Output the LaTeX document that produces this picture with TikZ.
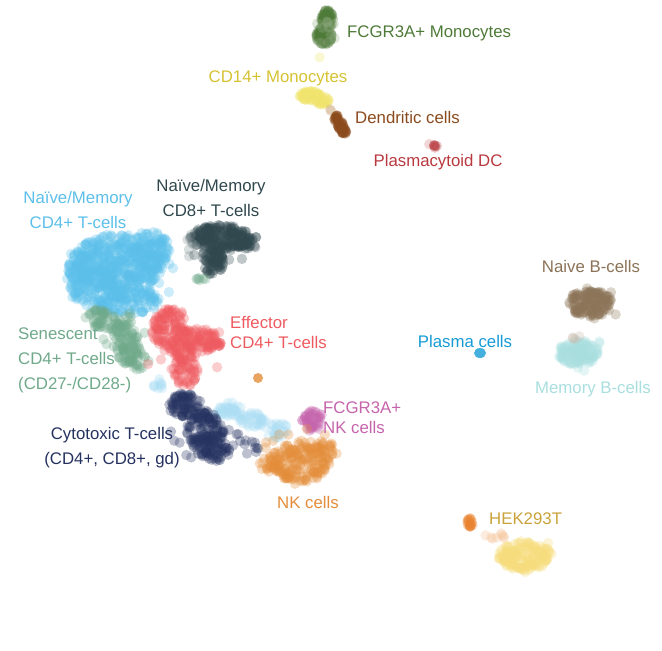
\documentclass[tikz,border=0pt]{standalone}
\usepackage{fontspec}
\setmainfont{Liberation Sans}
\usepackage{tikz}

\definecolor{fmono}{HTML}{4E7A38}
\definecolor{cmono}{HTML}{F0E46E}
\definecolor{cmonotxt}{HTML}{D6C232}
\definecolor{dend}{HTML}{8B4A1C}
\definecolor{dendtan}{HTML}{C49A6C}
\definecolor{pdc}{HTML}{B8393E}
\definecolor{cdfn}{HTML}{5BBFEA}
\definecolor{cdeight}{HTML}{2F474D}
\definecolor{sen}{HTML}{6FA98A}
\definecolor{eff}{HTML}{EE5A5F}
\definecolor{lblue}{HTML}{A9DCF3}
\definecolor{cyt}{HTML}{253260}
\definecolor{fnk}{HTML}{C564AC}
\definecolor{nk}{HTML}{E38D3A}
\definecolor{plasma}{HTML}{169BD5}
\definecolor{nb}{HTML}{8B7357}
\definecolor{mb}{HTML}{A9DEDF}
\definecolor{hek}{HTML}{E8822E}
\definecolor{heky}{HTML}{F6DC7C}
\definecolor{hektxt}{HTML}{C9A23A}

% cx, cy, sx, sy, n, colour
\newcommand\blob[6]{%
  \foreach \i in {1,...,#5}{
    \pgfmathsetmacro\rr{sqrt(rnd)}
    \pgfmathsetmacro\aa{360*rnd}
    \fill[dot,#6] ({#1+#3*\rr*cos(\aa)},{#2+#4*\rr*sin(\aa)}) circle[radius=5.2pt];
  }}

\begin{document}
\begin{tikzpicture}[x=1pt,y=-1pt,
  dot/.style={fill opacity=0.3},
  lbl/.style={font=\fontsize{16.8}{25}\selectfont,inner sep=0pt},
  lbltight/.style={font=\fontsize{16.8}{20}\selectfont,inner sep=0pt}]
\useasboundingbox (0,0) rectangle (662,651);
\pgfmathsetseed{1234}

% monocytes and dendritic cells
\blob{327}{20}{6}{10}{80}{fmono}
\blob{324}{36}{8}{9}{80}{fmono}
\blob{324}{32}{13}{14}{10}{fmono!60}
\blob{319}{57}{1}{1}{1}{cmono}
\blob{310}{96}{11}{5}{80}{cmono}
\blob{322}{100}{7}{5}{40}{cmono}
\blob{331}{110}{1}{1}{2}{dendtan}
\blob{337}{119}{3}{4}{20}{dend}
\blob{341}{126}{3}{4}{25}{dend}
\blob{344}{131}{3}{3}{20}{dend}
\blob{430}{144}{1}{1}{2}{pdc!40}
\blob{435}{147}{2}{2}{6}{pdc}

% T-cells
\blob{118}{262}{46}{28}{420}{cdfn}
\blob{95}{290}{26}{20}{120}{cdfn}
\blob{128}{300}{32}{14}{130}{cdfn}
\blob{150}{250}{20}{20}{90}{cdfn}
\blob{80}{268}{12}{15}{50}{cdfn}
\blob{120}{272}{58}{42}{30}{cdfn}
\blob{220}{238}{30}{13}{200}{cdeight}
\blob{212}{262}{12}{14}{70}{cdeight}
\blob{246}{243}{9}{6}{30}{cdeight}
\blob{190}{245}{6}{12}{6}{cdeight!60}
\blob{222}{248}{40}{24}{15}{cdeight}
\blob{201}{279}{5}{2}{6}{sen}
\blob{112}{322}{20}{10}{60}{sen}
\blob{127}{346}{14}{18}{80}{sen}
\blob{140}{360}{9}{10}{20}{sen}
\blob{98}{313}{10}{5}{15}{sen}
\blob{85}{318}{1}{1}{1}{sen}
\blob{120}{340}{30}{30}{12}{sen}
\blob{170}{330}{18}{22}{130}{eff}
\blob{198}{340}{20}{12}{80}{eff}
\blob{185}{365}{14}{22}{80}{eff}
\blob{214}{345}{8}{5}{20}{eff}
\blob{185}{350}{40}{45}{15}{eff}
\blob{228}{410}{14}{8}{35}{lblue}
\blob{252}{420}{14}{8}{35}{lblue}
\blob{276}{430}{12}{8}{25}{lblue}
\blob{160}{385}{8}{6}{10}{lblue}
\blob{185}{405}{17}{12}{80}{cyt}
\blob{205}{430}{19}{18}{120}{cyt}
\blob{214}{451}{17}{10}{60}{cyt}
\blob{250}{445}{12}{12}{10}{cyt}
\blob{205}{430}{35}{35}{15}{cyt}

% NK cells
\blob{312}{420}{10}{10}{45}{fnk}
\blob{312}{418}{16}{14}{6}{fnk}
\blob{300}{462}{30}{20}{170}{nk}
\blob{270}{464}{12}{8}{25}{nk}
\blob{325}{450}{10}{10}{30}{nk}
\blob{300}{458}{42}{30}{15}{nk}
\fill[nk,fill opacity=0.8] (258,378) circle[radius=5pt];

% B-cells
\fill[plasma,fill opacity=0.8] (480,353) ellipse[x radius=6pt,y radius=5pt];
\blob{590}{303}{22}{14}{150}{nb}
\blob{590}{305}{30}{20}{12}{nb}
\blob{578}{353}{20}{12}{140}{mb}
\blob{578}{352}{28}{20}{12}{mb}
\blob{574}{337}{6}{3}{4}{nb!50}

% HEK293T
\blob{470}{523}{3}{6}{20}{hek}
\blob{495}{536}{10}{4}{8}{hek!50}
\blob{525}{556}{27}{14}{170}{heky}
\blob{525}{556}{33}{19}{10}{heky}

% labels
\node[lbl,text=fmono,anchor=west] (fmonolbl) at (347,33) {FCGR3A+ Monocytes};
\node[lbl,text=cmonotxt] (cmonolbl) at (278,78) {CD14+ Monocytes};
\node[lbl,text=dend,anchor=west] (dendlbl) at (355,117) {Dendritic cells};
\node[lbl,text=pdc] (pdclbl) at (438,162) {Plasmacytoid DC};
\node[lbl,text=cdfn,align=center] (cdfnlbl) at (78,210) {Naïve/Memory\\CD4+ T-cells};
\node[lbl,text=cdeight,align=center] (cdeightlbl) at (211,198) {Naïve/Memory\\CD8+ T-cells};
\node[lbltight,text=eff,align=left,anchor=west] (efflbl) at (230,332) {Effector\\CD4+ T-cells};
\node[lbl,text=sen,align=left,anchor=west] (senlbl) at (18,360) {Senescent\\CD4+ T-cells\\(CD27-/CD28-)};
\node[lbl,text=cyt,align=center] (cytlbl) at (112,448) {Cytotoxic T-cells\\(CD4+, CD8+, gd)};
\node[lbltight,text=fnk,align=left,anchor=west] (fnklbl) at (323,418) {FCGR3A+\\NK cells};
\node[lbl,text=nk] (nklbl) at (308,502) {NK cells};
\node[lbl,text=plasma] (plasmalbl) at (465,341) {Plasma cells};
\node[lbl,text=nb] (nblbl) at (591,266) {Naive B-cells};
\node[lbl,text=mb] (mblbl) at (593,389) {Memory B-cells};
\node[lbl,text=hektxt,anchor=west] (heklbl) at (489,519) {HEK293T};
\end{tikzpicture}
\end{document}
